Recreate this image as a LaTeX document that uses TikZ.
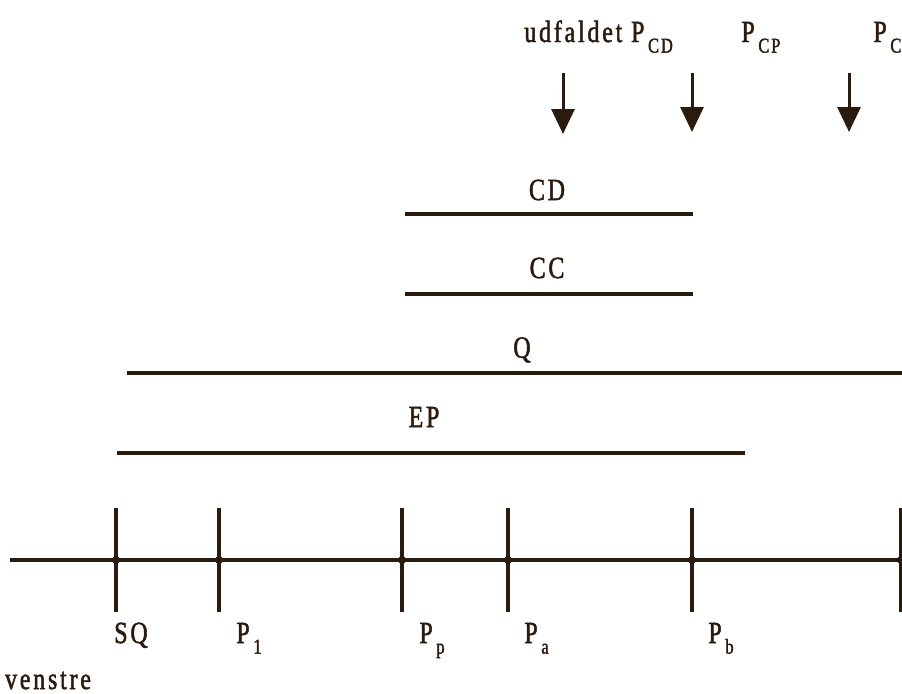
\documentclass[tikz,border=0pt]{standalone}
\usepackage{fontspec}
\usetikzlibrary{arrows.meta}
\setmainfont{Liberation Serif}[FakeStretch=0.78,LetterSpace=9,FakeBold=1.6]
\definecolor{ink}{HTML}{2B1A0E}
\newcommand\lowidx[1]{\hspace{0.12em}\raisebox{-0.75ex}{\fontsize{12}{14}\selectfont #1}}

\begin{document}
\begin{tikzpicture}[x=0.02cm,y=-0.02cm,font=\fontsize{17.5}{20}\selectfont,color=ink,
  bar/.style={line width=2.2pt,draw=ink},
  tick/.style={line width=2pt,draw=ink},
  lbl/.style={inner sep=0pt,text=ink},
  down/.style={-{Triangle[length=5mm,width=4.6mm]},line width=1.7pt,draw=ink}]
\useasboundingbox (0,0) rectangle (902,693);
\clip (0,0) rectangle (902,693);
% top labels and arrows
\node[lbl,anchor=base west] (udf) at (524,42) {udfaldet P\lowidx{CD}};
\node[lbl,anchor=base west] (pcp) at (741,42) {P\lowidx{CP}};
\node[lbl,anchor=base west] (pc) at (873,42) {P\lowidx{CC}};
\coordinate (a1) at (563,73); \coordinate (b1) at (563,134);
\coordinate (a2) at (692,73); \coordinate (b2) at (692,132);
\coordinate (a3) at (849,73); \coordinate (b3) at (849,132);
\draw[down] (a1) -- (b1);
\draw[down] (a2) -- (b2);
\draw[down] (a3) -- (b3);
% intervals
\coordinate (cdL) at (405,214); \coordinate (cdR) at (693,214);
\coordinate (ccL) at (405,294); \coordinate (ccR) at (693,294);
\coordinate (qL) at (127,373); \coordinate (qR) at (910,373);
\coordinate (epL) at (117,453); \coordinate (epR) at (745,453);
\draw[bar] (cdL) -- (cdR);
\draw[bar] (ccL) -- (ccR);
\draw[bar] (qL) -- (qR);
\draw[bar] (epL) -- (epR);
\node[lbl] (cd) at (547,190) {CD};
\node[lbl] (cc) at (547,268) {CC};
\node[lbl] (q) at (522,350) {Q};
\node[lbl] (ep) at (424,417) {EP};
% axis
\coordinate (axL) at (10,560); \coordinate (axR) at (910,560);
\draw[bar] (axL) -- (axR);
\foreach \name/\xx in {sq/116,p1/219,pp/402,pa/508,pb/692,pr/901}{
  \coordinate (\name t) at (\xx,508);
  \coordinate (\name b) at (\xx,612);
  \draw[tick] (\name t) -- (\name b);
  \fill[ink] (\xx,560) circle (4);
}
\node[lbl,anchor=base] (sqlbl) at (131,643) {SQ};
\node[lbl,anchor=base west] (p1lbl) at (236,643) {P\lowidx{1}};
\node[lbl,anchor=base west] (pplbl) at (419,643) {P\lowidx{p}};
\node[lbl,anchor=base west] (palbl) at (524,643) {P\lowidx{a}};
\node[lbl,anchor=base west] (pblbl) at (708,643) {P\lowidx{b}};
\node[lbl,anchor=base] (venstre) at (48,689) {venstre};
\end{tikzpicture}
\end{document}
